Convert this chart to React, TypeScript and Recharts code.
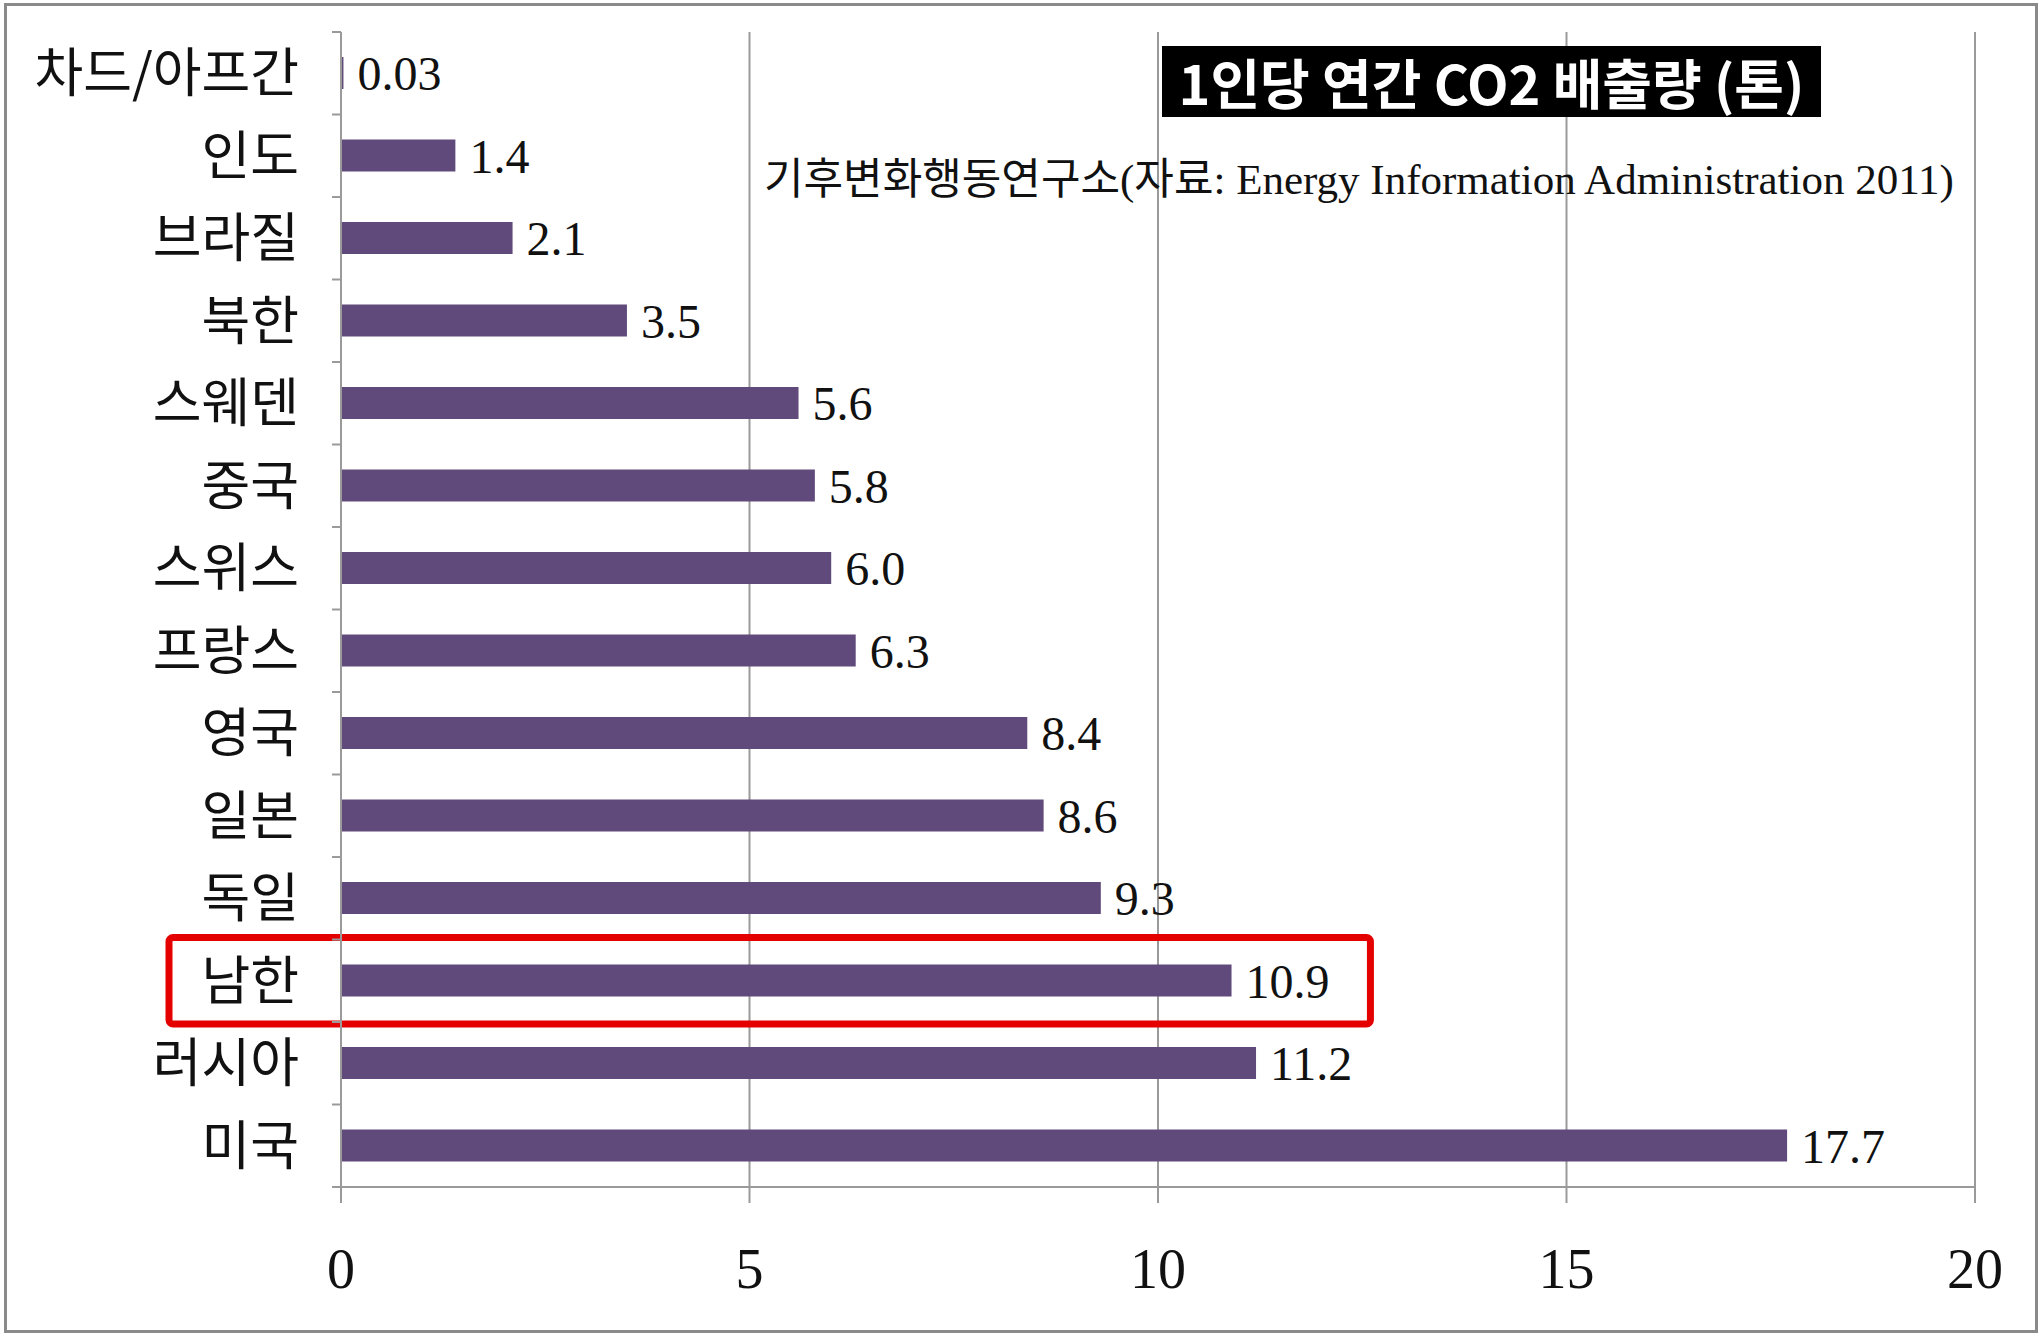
import { BarChart, Bar, XAxis, YAxis, CartesianGrid, LabelList, ReferenceArea } from "recharts";

const countries = [
  "차드/아프간",
  "인도",
  "브라질",
  "북한",
  "스웨덴",
  "중국",
  "스위스",
  "프랑스",
  "영국",
  "일본",
  "독일",
  "남한",
  "러시아",
  "미국",
];
const emissions = [0.03, 1.4, 2.1, 3.5, 5.6, 5.8, 6.0, 6.3, 8.4, 8.6, 9.3, 10.9, 11.2, 17.7];
const xTicks = [0, 5, 10, 15, 20];
const highlighted = "남한";
const highlightEnd = 12.6;

const title = "1인당 연간 CO2 배출량 (톤)";
const source = "기후변화행동연구소(자료: Energy Information Administration 2011)";

const W = 2040;
const H = 1335;
const M = { top: 32, right: 65, bottom: 18, left: 0 };
const Y_W = 341;
const X_H = 130;
const BAND = (H - M.top - M.bottom - X_H) / countries.length;
const GRID = "#9a9a9a";
const SERIF = "'Liberation Serif', 'Times New Roman', serif";
const KR = "'Noto Sans CJK KR', 'Noto Sans', sans-serif";

const chartData = countries.map((name, i) => ({ name, value: emissions[i] }));

const fmt = (v: number) => (v < 0.1 ? v.toFixed(2) : v.toFixed(1));

const CountryTick = (props: any) => {
  const { x, y, payload, index } = props;
  const ax = x + 33 + 9;
  const last = index === countries.length - 1;
  return (
    <g>
      <line x1={ax - 9} x2={ax} y1={y - BAND / 2} y2={y - BAND / 2} stroke={GRID} strokeWidth={2} />
      {last && <line x1={ax - 9} x2={ax} y1={y + BAND / 2} y2={y + BAND / 2} stroke={GRID} strokeWidth={2} />}
      <text x={x} y={y} dy="0.36em" textAnchor="end" fontFamily={KR} fontSize={53} fill="#111">
        {payload.value}
      </text>
    </g>
  );
};

const HighlightBox = (props: any) => {
  const { x, y, width, height } = props;
  const left = x - 172;
  return (
    <rect
      x={left}
      y={y - 2}
      width={width + (x - left)}
      height={height + 4}
      fill="none"
      stroke="#e50000"
      strokeWidth={7}
      rx={4}
    />
  );
};

export default function App() {
  return (
    <div style={{ position: "relative", width: W, height: H, background: "#fff" }}>
      <style>{`body{margin:0}`}</style>
      <div
        style={{
          position: "absolute",
          left: 4,
          top: 3,
          width: 2028,
          height: 1324,
          border: "3px solid #8a8a8a",
        }}
      />
      <BarChart width={W} height={H} data={chartData} layout="vertical" margin={M} barCategoryGap="60%">
        <CartesianGrid horizontal={false} vertical stroke={GRID} strokeWidth={2} />
        <XAxis
          type="number"
          domain={[0, 20]}
          ticks={xTicks}
          height={X_H}
          axisLine={{ stroke: GRID, strokeWidth: 2 }}
          tickLine={{ stroke: GRID, strokeWidth: 2 }}
          tickSize={16}
          tickMargin={45}
          tick={{ fontFamily: SERIF, fontSize: 56, fill: "#111" }}
        />
        <YAxis
          type="category"
          dataKey="name"
          width={Y_W}
          axisLine={{ stroke: GRID, strokeWidth: 2 }}
          tickLine={false}
          tickSize={9}
          tickMargin={33}
          interval={0}
          tick={<CountryTick />}
        />
        <Bar dataKey="value" fill="#604a7b" barSize={32} isAnimationActive={false}>
          <LabelList
            dataKey="value"
            position="right"
            offset={14}
            formatter={(v: any) => fmt(Number(v))}
            style={{ fontFamily: SERIF, fontSize: 48, fill: "#111" }}
          />
        </Bar>
        <ReferenceArea
          y1={highlighted}
          y2={highlighted}
          x1={0}
          x2={highlightEnd}
          ifOverflow="visible"
          shape={<HighlightBox />}
        />
      </BarChart>
      <div
        style={{
          position: "absolute",
          left: 1162,
          top: 46,
          width: 659,
          height: 71,
          background: "#000",
          color: "#fff",
          fontFamily: KR,
          fontWeight: 700,
          fontSize: 54,
          lineHeight: "71px",
          textAlign: "center",
          whiteSpace: "nowrap",
        }}
      >
        {title}
      </div>
      <div
        style={{
          position: "absolute",
          left: 764,
          top: 152,
          fontFamily: `${SERIF.split(",")[0]}, ${KR}`,
          fontSize: 43,
          lineHeight: "56px",
          color: "#111",
          whiteSpace: "nowrap",
        }}
      >
        {source}
      </div>
    </div>
  );
}
